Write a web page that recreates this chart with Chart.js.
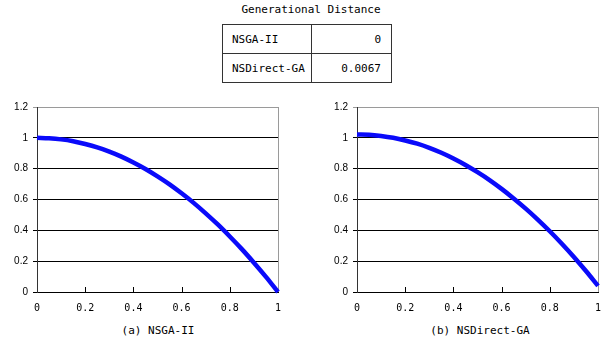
<!DOCTYPE html>
<html lang="en">
<head>
    <meta charset="UTF-8">
    <title>Generational Distance</title>
    <script src="https://cdn.jsdelivr.net/npm/chart.js"></script>
    <style>
        body {
            margin: 0;
            width: 616px;
            height: 354px;
            background: #ffffff;
            position: relative;
            overflow: hidden;
            font-family: 'DejaVu Sans Mono', monospace;
            color: #000;
        }
        .title {
            position: absolute;
            left: 0;
            width: 622px;
            top: 3px;
            text-align: center;
            font-size: 11px;
        }
        table {
            position: absolute;
            left: 222px;
            top: 24px;
            border-collapse: collapse;
            font-size: 11px;
        }
        td {
            border: 1px solid #333;
            height: 28px;
            padding: 0;
        }
        td.name { width: 79px; padding-left: 9px; text-align: left; }
        td.val { width: 69px; padding-right: 10px; text-align: right; }
        .box {
            position: absolute;
            top: 95px;
            height: 217px;
        }
        .caption {
            position: absolute;
            top: 324px;
            font-size: 11px;
            text-align: center;
            width: 200px;
        }
    </style>
</head>
<body>
    <div class="title">Generational Distance</div>
    <table>
        <tr><td class="name">NSGA-II</td><td class="val">0</td></tr>
        <tr><td class="name">NSDirect-GA</td><td class="val">0.0067</td></tr>
    </table>

    <div class="box" style="left:0px; width:300px;"><canvas id="chartA"></canvas></div>
    <div class="box" style="left:320px; width:296px;"><canvas id="chartB"></canvas></div>

    <div class="caption" style="left:58px;">(a) NSGA-II</div>
    <div class="caption" style="left:380px;">(b) NSDirect-GA</div>

    <script>
        // values
        const f1Values = [0, 0.05, 0.1, 0.15, 0.2, 0.25, 0.3, 0.35, 0.4, 0.45, 0.5,
                          0.55, 0.6, 0.65, 0.7, 0.75, 0.8, 0.85, 0.9, 0.95, 1];
        const nsgaF2 = [1.000, 0.997, 0.990, 0.978, 0.960, 0.938, 0.910, 0.878, 0.840, 0.798, 0.750,
                        0.698, 0.640, 0.578, 0.510, 0.438, 0.360, 0.278, 0.190, 0.098, 0.000];
        const nsdirectF2 = [1.022, 1.020, 1.012, 1.000, 0.983, 0.962, 0.935, 0.903, 0.866, 0.824, 0.777,
                            0.726, 0.669, 0.607, 0.541, 0.470, 0.394, 0.313, 0.227, 0.136, 0.040];
        const xTickLabels = ['0', '0.2', '0.4', '0.6', '0.8', '1'];
        const yTickLabels = ['0', '0.2', '0.4', '0.6', '0.8', '1', '1.2'];

        // small ticks pointing up from the x axis
        const innerTicks = {
            id: 'innerTicks',
            afterDraw(chart) {
                const ctx = chart.ctx;
                const x = chart.scales.x;
                const bottom = chart.chartArea.bottom;
                ctx.save();
                ctx.strokeStyle = '#000';
                ctx.lineWidth = 1;
                for (let i = 1; i < xTickLabels.length - 1; i++) {
                    const px = Math.round(x.getPixelForValue(i * 0.2)) + 0.5;
                    ctx.beginPath();
                    ctx.moveTo(px, bottom);
                    ctx.lineTo(px, bottom - 5);
                    ctx.stroke();
                }
                ctx.restore();
            }
        };

        function makeChart(id, yValues, padRight) {
            const points = f1Values.map((v, i) => ({ x: v, y: yValues[i] }));
            return new Chart(document.getElementById(id), {
                type: 'scatter',
                data: {
                    datasets: [{
                        data: points,
                        showLine: true,
                        borderColor: 'rgb(10, 10, 250)',
                        borderWidth: 4.5,
                        pointRadius: 0,
                        cubicInterpolationMode: 'monotone',
                        clip: false
                    }]
                },
                options: {
                    responsive: true,
                    maintainAspectRatio: false,
                    animation: false,
                    layout: { padding: { left: 0, right: padRight, top: 12, bottom: 0 } },
                    plugins: { legend: { display: false }, tooltip: { enabled: false } },
                    scales: {
                        x: {
                            type: 'linear',
                            min: 0,
                            max: 1,
                            afterFit: s => { s.height = 20; },
                            grid: {
                                drawTicks: false,
                                color: c => (c.tick && c.tick.value === 1) ? '#9a9a9a' : 'rgba(0,0,0,0)'
                            },
                            border: { color: '#000', width: 1 },
                            afterBuildTicks: s => { s.ticks = xTickLabels.map(t => ({ value: parseFloat(t) })); },
                            ticks: {
                                padding: 10,
                                maxRotation: 0,
                                color: '#000',
                                font: { family: 'DejaVu Sans Mono', size: 10 },
                                callback: (v, i) => xTickLabels[i]
                            }
                        },
                        y: {
                            type: 'linear',
                            min: 0,
                            max: 1.2,
                            afterFit: s => { s.width = 37; },
                            afterBuildTicks: s => { s.ticks = yTickLabels.map(t => ({ value: parseFloat(t) })); },
                            grid: {
                                tickLength: 4,
                                color: c => (c.tick && c.tick.value > 1.1) ? '#9a9a9a' : '#000'
                            },
                            border: { color: '#333', width: 1 },
                            ticks: {
                                padding: 5,
                                color: '#000',
                                font: { family: 'Liberation Sans', size: 10 },
                                callback: (v, i) => yTickLabels[i]
                            }
                        }
                    }
                },
                plugins: [innerTicks]
            });
        }

        makeChart('chartA', nsgaF2, 22);
        makeChart('chartB', nsdirectF2, 18);
    </script>
</body>
</html>
